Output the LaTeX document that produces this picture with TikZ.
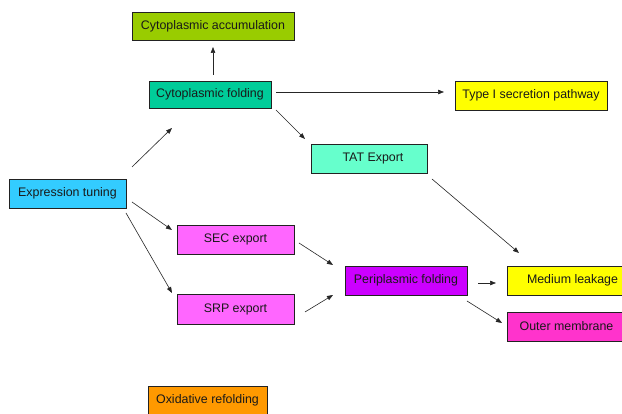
\documentclass[tikz,border=0pt]{standalone}
\usepackage{fontspec}
\setmainfont{Liberation Sans}
\usetikzlibrary{arrows.meta}
\definecolor{cacc}{HTML}{99CC00}
\definecolor{cfold}{HTML}{00CC99}
\definecolor{cexp}{HTML}{33CCFF}
\definecolor{cyel}{HTML}{FFFF00}
\definecolor{ctat}{HTML}{66FFCC}
\definecolor{csec}{HTML}{FF66FF}
\definecolor{cper}{HTML}{CC00FF}
\definecolor{cout}{HTML}{FF33CC}
\definecolor{coxi}{HTML}{FF9900}
\definecolor{cline}{HTML}{222222}
\begin{document}
\begin{tikzpicture}[x=1pt,y=1pt,
  box/.style={draw=cline,line width=0.8pt,inner sep=0pt,outer sep=0pt,
    font=\fontsize{12.4}{14}\selectfont,text=black!90},
  arr/.style={-{Triangle[length=6pt,width=4.5pt]},line width=0.6pt,draw=black!85}]
\useasboundingbox (0,0) rectangle (622,414);
\fill[white] (0,0) rectangle (622,414);
\node[box,fill=cacc,minimum width=162,minimum height=28] (acc) at (213,388) {Cytoplasmic accumulation};
\node[box,fill=cfold,minimum width=122,minimum height=27] (cyf) at (210,319.5) {Cytoplasmic folding};
\node[box,fill=cexp,minimum width=117,minimum height=29] (exp) at (67.5,220.5) {Expression tuning};
\node[box,fill=cyel,minimum width=152,minimum height=29] (typ) at (531,318.5) {Type I secretion pathway};
\node[box,fill=ctat,minimum width=116,minimum height=29] (tat) at (369,255.5) {\hspace{8pt}TAT Export};
\node[box,fill=csec,minimum width=117,minimum height=29] (sec) at (235.5,174.5) {SEC export};
\node[box,fill=csec,minimum width=117,minimum height=30] (srp) at (235.5,105) {SRP export};
\node[box,fill=cper,minimum width=122,minimum height=29] (per) at (406,133.5) {Periplasmic folding};
\node[box,fill=cyel,minimum width=131,minimum height=29] (med) at (572.5,133.5) {Medium leakage};
\node[box,fill=cout,minimum width=119,minimum height=29] (out) at (566.5,87.5) {Outer membrane};
\node[box,fill=coxi,minimum width=119,minimum height=29] (oxi) at (207.5,13.5) {Oxidative refolding};
\draw[arr] ([shift={(3,6)}]cyf.north) -- ([shift={(0,-7)}]acc.south);
\draw[arr] ([shift={(5,2.5)}]cyf.east) -- ([shift={(-11,3.5)}]typ.west);
\draw[arr] ([shift={(5,-2)}]cyf.south east) -- ([shift={(-6,5)}]tat.north west);
\draw[arr] ([shift={(6,12)}]exp.north east) -- ([shift={(23,-20)}]cyf.south west);
\draw[arr] ([shift={(6,-8.5)}]exp.east) -- ([shift={(-5,9.5)}]sec.west);
\draw[arr] ([shift={(0,-5)}]exp.south east) -- ([shift={(-5,1)}]srp.north west);
\draw[arr] ([shift={(5,-3.5)}]sec.east) -- ([shift={(-12,1)}]per.north west);
\draw[arr] ([shift={(11,-3)}]srp.east) -- ([shift={(-12,0)}]per.south west);
\draw[arr] ([shift={(5,-6)}]tat.south east) -- ([shift={(12,13)}]med.north west);
\draw[arr] ([shift={(11,-2.5)}]per.east) -- ([shift={(-11,-2.5)}]med.west);
\draw[arr] ([shift={(0,-6)}]per.south east) -- ([shift={(-5,3.5)}]out.west);
\end{tikzpicture}
\end{document}
